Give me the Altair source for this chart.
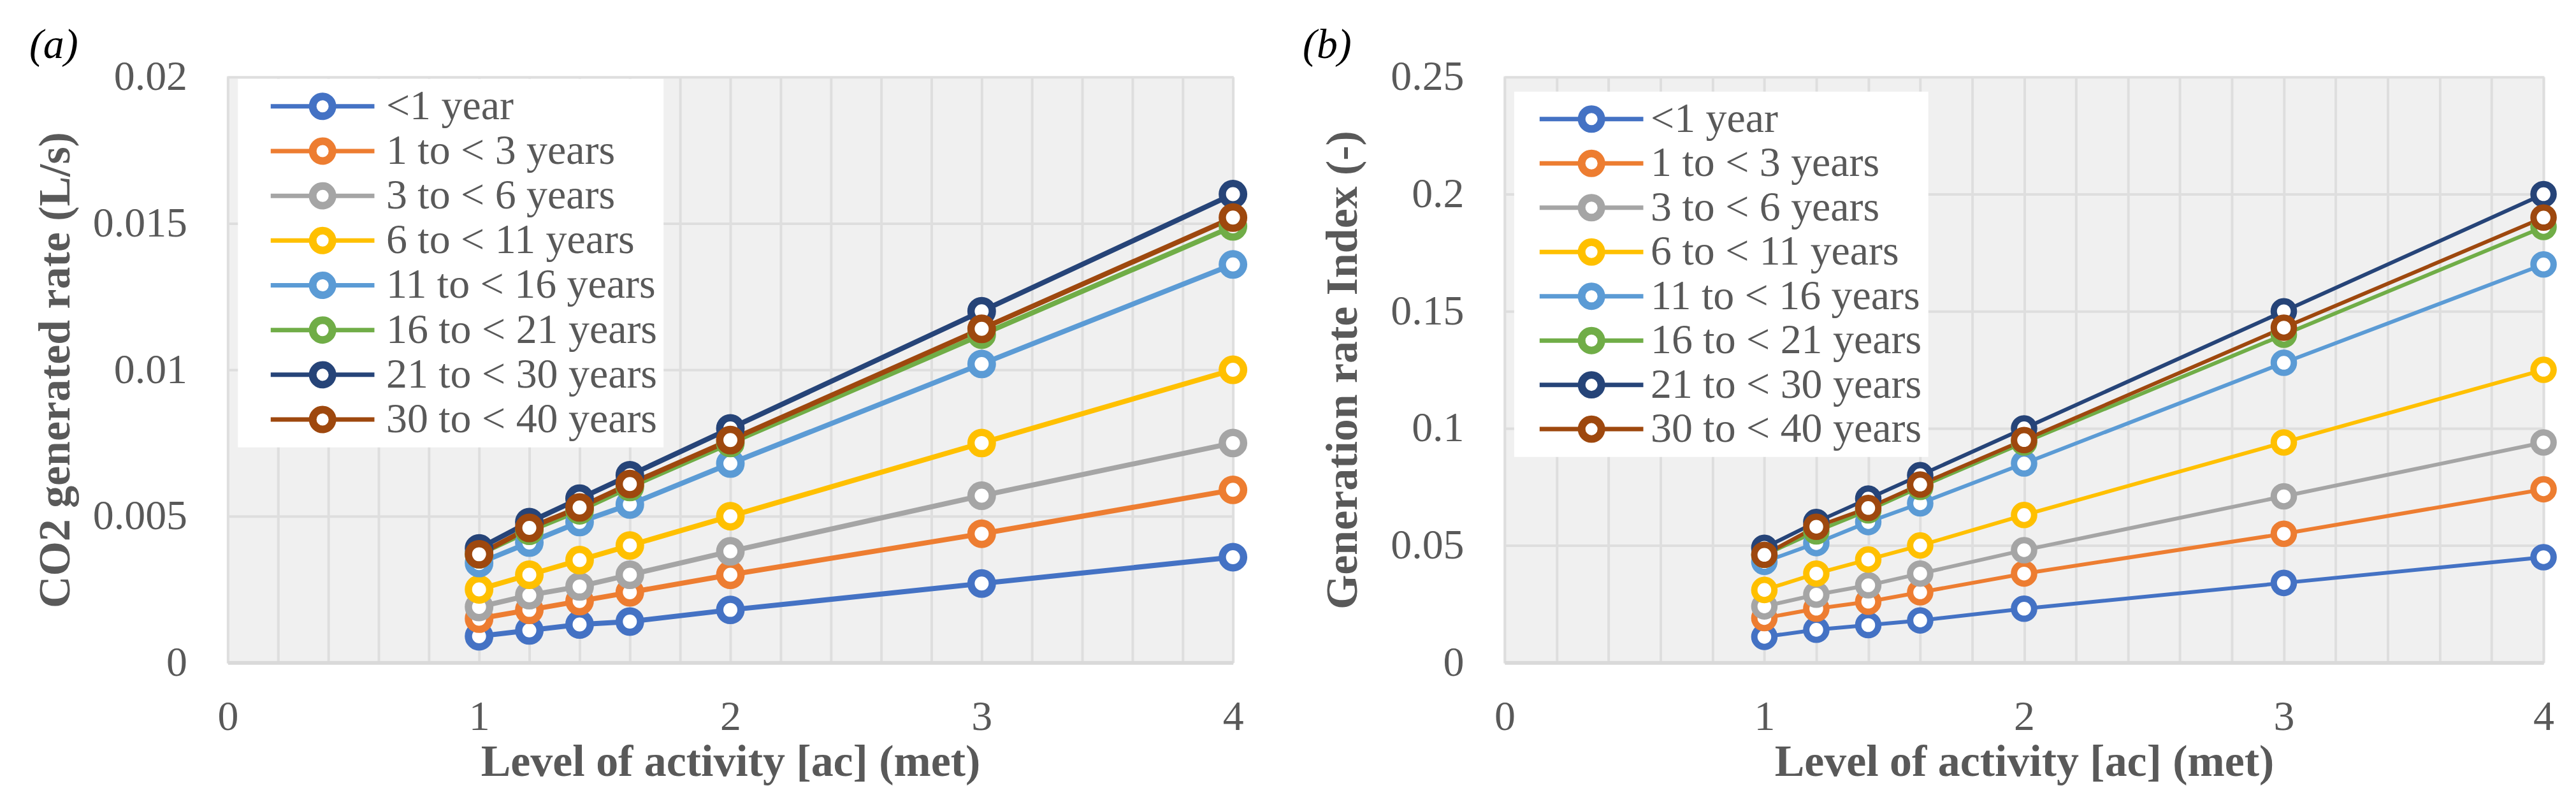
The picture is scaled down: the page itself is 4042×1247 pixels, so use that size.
import altair as alt
import pandas as pd

# ---------------- data ----------------
met = [1.0, 1.2, 1.4, 1.6, 2.0, 3.0, 4.0]
groups = ["<1 year", "1 to < 3 years", "3 to < 6 years", "6 to < 11 years",
          "11 to < 16 years", "16 to < 21 years", "21 to < 30 years", "30 to < 40 years"]
colors = ["#4472C4", "#ED7D31", "#A5A5A5", "#FFC000",
          "#5B9BD5", "#70AD47", "#264478", "#9E480E"]

# (a) CO2 generated rate (L/s)
co2_lt1 = [0.0009, 0.0011, 0.0013, 0.0014, 0.0018, 0.0027, 0.0036]
co2_1_3 = [0.0015, 0.0018, 0.0021, 0.0024, 0.0030, 0.0044, 0.0059]
co2_3_6 = [0.0019, 0.0023, 0.0026, 0.0030, 0.0038, 0.0057, 0.0075]
co2_6_11 = [0.0025, 0.0030, 0.0035, 0.0040, 0.0050, 0.0075, 0.0100]
co2_11_16 = [0.0034, 0.0041, 0.0048, 0.0054, 0.0068, 0.0102, 0.0136]
co2_16_21 = [0.0037, 0.0045, 0.0052, 0.0060, 0.0075, 0.0112, 0.0149]
co2_21_30 = [0.0039, 0.0048, 0.0056, 0.0064, 0.0080, 0.0120, 0.0160]
co2_30_40 = [0.0037, 0.0046, 0.0053, 0.0061, 0.0076, 0.0114, 0.0152]

# (b) Generation rate index (-)
idx_lt1 = [0.011, 0.014, 0.016, 0.018, 0.023, 0.034, 0.045]
idx_1_3 = [0.019, 0.023, 0.026, 0.030, 0.038, 0.055, 0.074]
idx_3_6 = [0.024, 0.029, 0.033, 0.038, 0.048, 0.071, 0.094]
idx_6_11 = [0.031, 0.038, 0.044, 0.050, 0.063, 0.094, 0.125]
idx_11_16 = [0.043, 0.051, 0.060, 0.068, 0.085, 0.128, 0.170]
idx_16_21 = [0.046, 0.056, 0.065, 0.075, 0.094, 0.140, 0.186]
idx_21_30 = [0.049, 0.060, 0.070, 0.080, 0.100, 0.150, 0.200]
idx_30_40 = [0.046, 0.058, 0.066, 0.076, 0.095, 0.143, 0.190]

co2_series = [co2_lt1, co2_1_3, co2_3_6, co2_6_11, co2_11_16, co2_16_21, co2_21_30, co2_30_40]
idx_series = [idx_lt1, idx_1_3, idx_3_6, idx_6_11, idx_11_16, idx_16_21, idx_21_30, idx_30_40]

x_grid = [0, 0.2, 0.4, 0.6, 0.8, 1, 1.2, 1.4, 1.6, 1.8, 2, 2.2, 2.4, 2.6, 2.8,
          3, 3.2, 3.4, 3.6, 3.8, 4]
y_ticks_a = [0, 0.005, 0.01, 0.015, 0.02]
y_ticks_b = [0, 0.05, 0.1, 0.15, 0.2, 0.25]


def to_frame(series_list):
    rows = []
    for g, vals in zip(groups, series_list):
        for m, v in zip(met, vals):
            rows.append({"group": g, "met": m, "value": v})
    return pd.DataFrame(rows)


SERIF = "Liberation Serif"
GRAY = "#595959"
# legend symbol: line - ring - line
SYMBOL = ("M-1,0L-0.221,0M0.221,0L1,0"
          "M0.221,0A0.221,0.221,0,1,1,-0.221,0A0.221,0.221,0,1,1,0.221,0Z"
          "M0.16,0A0.16,0.16,0,1,1,-0.16,0A0.16,0.16,0,1,1,0.16,0Z")


def panel(df, ytitle, ymax, yticks, width, tag, tag_dx, line_w, pt_size, pt_sw,
          leg_x, leg_y, sym_off, lab_off, row_pad, title_pad):
    x = alt.X("met:Q",
              scale=alt.Scale(domain=[0, 4], nice=False, zero=False),
              axis=alt.Axis(title="Level of activity [ac] (met)", values=x_grid,
                            labelExpr="abs(datum.value - round(datum.value)) < 0.001 ? format(datum.value, 'd') : ''",
                            labelFlush=False, labelOverlap=False, labelPadding=53,
                            titlePadding=5, domain=True, domainColor="#d9d9d9",
                            domainWidth=6))
    y = alt.Y("value:Q",
              scale=alt.Scale(domain=[0, ymax], nice=False, zero=True),
              axis=alt.Axis(title=ytitle, values=yticks, format="~g",
                            labelFlush=False, labelOverlap=False, labelPadding=64,
                            titlePadding=title_pad, domain=False))
    color = alt.Color("group:N",
                      scale=alt.Scale(domain=groups, range=colors),
                      sort=groups,
                      legend=alt.Legend(title=None, orient="none",
                                        legendX=leg_x, legendY=leg_y,
                                        symbolType=SYMBOL, symbolSize=26569,
                                        symbolStrokeWidth=7, symbolFillColor="white",
                                        symbolOffset=sym_off, labelOffset=lab_off,
                                        clipHeight=66, rowPadding=row_pad,
                                        labelFont=SERIF, labelFontSize=66,
                                        labelColor=GRAY, labelLimit=0,
                                        fillColor="white", padding=10))
    lines = alt.Chart(df).mark_line(strokeWidth=line_w).encode(
        x=x, y=y, color=color, order="met:Q")
    points = alt.Chart(df).mark_point(shape="circle", filled=False, fill="white",
                                      size=pt_size, strokeWidth=pt_sw, opacity=1).encode(
        x=x, y=y, color=color)
    return alt.layer(lines, points).properties(
        width=width, height=920,
        title=alt.TitleParams(tag, anchor="start", frame="bounds", font=SERIF,
                              fontSize=66, fontStyle="italic", fontWeight="normal",
                              color="black", offset=-17, dx=tag_dx))


left = panel(to_frame(co2_series), "CO2 generated rate (L/s)", 0.02, y_ticks_a,
             1580, "(a)", -7, 8, 1122, 11.5, 16, 3, 38, 15, 4.3, 34)
right = panel(to_frame(idx_series), "Generation rate Index (-)", 0.25, y_ticks_b,
              1633, "(b)", -29, 6, 1000, 10, 15, 23, 26.5, 8, 3.6, 38)

chart = alt.hconcat(left, right, spacing=66).resolve_scale(
    color="independent"
).properties(
    padding={"left": 36, "top": 27, "right": 5, "bottom": 5}
).configure_view(
    fill="#f0f0f0", stroke="#e3e3e3", strokeWidth=3
).configure_axis(
    labelFont=SERIF, labelFontSize=66, labelColor=GRAY,
    titleFont=SERIF, titleFontSize=70, titleFontWeight="bold", titleColor=GRAY,
    ticks=False, tickSize=0, grid=True, gridColor="#dedede", gridWidth=4
)

chart.save("out.html", embed_options={"renderer": "svg", "actions": False})
